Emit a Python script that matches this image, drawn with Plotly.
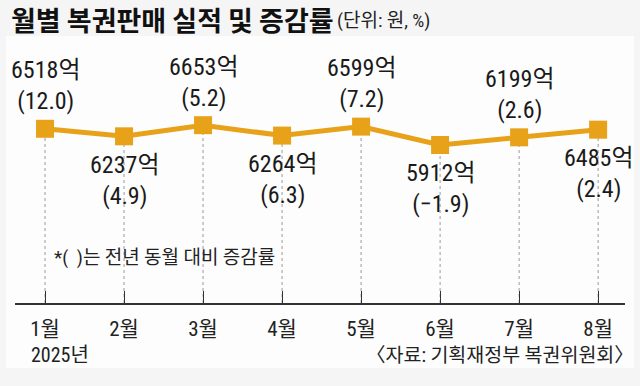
import plotly.graph_objects as go

months = ["1월", "2월", "3월", "4월", "5월", "6월", "7월", "8월"]
sales = [6518, 6237, 6653, 6264, 6599, 5912, 6199, 6485]  # 억 원
growth = [12.0, 4.9, 5.2, 6.3, 7.2, -1.9, 2.6, 2.4]  # %
label_above = [True, False, True, False, True, False, True, False]

title = "월별 복권판매 실적 및 증감률"
unit = "(단위: 원, %)"
note = "*(  )는 전년 동월 대비 증감률"
year = "2025년"
source = "〈자료: 기획재정부 복권위원회〉"

ORANGE = "#E8A21A"
NUM_FONT = "Liberation Sans Narrow, Roboto Condensed, Noto Sans CJK KR, sans-serif"
KR_FONT = "Noto Sans CJK KR, sans-serif"

xs = list(range(len(months)))
W, H = 640, 386
ML, MR, MT, MB = 15, 15, 40, 83

fig = go.Figure()

# dashed drop lines from each point to the axis
dx, dy = [], []
for i, v in zip(xs, sales):
    dx += [i, i, None]
    dy += [0, v, None]
fig.add_trace(go.Scatter(x=dx, y=dy, mode="lines",
                         line=dict(color="#9a9a9a", width=1, dash="3px,3px"),
                         hoverinfo="skip", showlegend=False))

fig.add_trace(go.Scatter(x=xs, y=sales, mode="lines+markers",
                         line=dict(color=ORANGE, width=5),
                         marker=dict(symbol="square", size=18, color=ORANGE),
                         showlegend=False))

def fmt(g):
    s = f"{abs(g):.1f}"
    return f"(−{s})" if g < 0 else f"({s})"

for i, v, g, up in zip(xs, sales, growth, label_above):
    fig.add_annotation(x=i, y=v, text=f"{v}억<br>{fmt(g)}", showarrow=False,
                       yanchor="middle", xanchor="center",
                       yshift=43 if up else -44,
                       font=dict(family=NUM_FONT, size=24, color="#1a1a1a"))

layout_annots = [
    dict(text=f"<b>{title}</b>", x=9, y=19, size=27, anchor="left", color="#111", family=KR_FONT),
    dict(text=unit, x=335, y=20, size=19, anchor="left", color="#222", family=NUM_FONT),
    dict(text=note, x=52, y=257, size=19, anchor="left", color="#222", family=NUM_FONT),
    dict(text=year, x=29, y=355, size=20, anchor="left", color="#222", family=NUM_FONT),
    dict(text=source, x=636, y=355, size=19.5, anchor="right", color="#222", family=NUM_FONT),
]
PW, PH = W - ML - MR, H - MT - MB
for a in layout_annots:
    fig.add_annotation(xref="paper", yref="paper",
                       x=(a["x"] - ML) / PW, y=(H - MB - a["y"]) / PH,
                       text=a["text"], showarrow=False, xanchor=a["anchor"], yanchor="middle",
                       font=dict(family=a["family"], size=a["size"], color=a["color"]))

fig.update_layout(
    width=W, height=H,
    margin=dict(l=ML, r=MR, t=MT, b=MB),
    paper_bgcolor="#f5f5f5",
    plot_bgcolor="rgba(0,0,0,0)",
    shapes=[dict(type="rect", xref="paper", yref="paper", layer="below",
                 x0=(6 - ML) / PW, x1=(634 - ML) / PW,
                 y0=(H - MB - 368) / PH, y1=(H - MB - 36) / PH,
                 fillcolor="#fdfdfd", line=dict(width=0))],
    xaxis=dict(range=[-0.38, 7.34], tickmode="array", tickvals=xs, ticktext=months,
               showgrid=False, zeroline=False, showline=True, linecolor="#333", linewidth=2,
               ticks="inside", ticklen=12, tickwidth=1, tickcolor="#333",
               ticklabelstandoff=6,
               tickfont=dict(family=NUM_FONT, size=21, color="#222")),
    yaxis=dict(range=[0, 9840], visible=False, showgrid=False, zeroline=False),
)

fig.write_html("out.html", config={"displayModeBar": False},
               post_script="document.body.style.margin='0';document.body.style.padding='0';")
